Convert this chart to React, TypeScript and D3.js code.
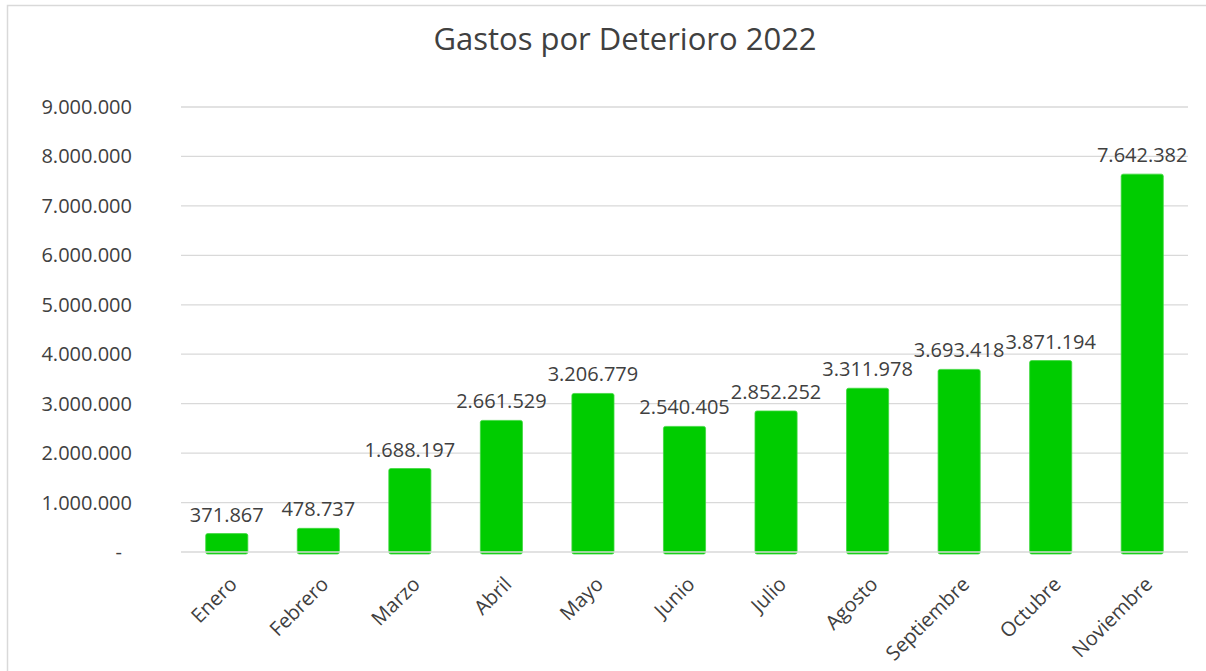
import { useRef, useEffect } from "react";
import * as d3 from "d3";

const months = [
  "Enero",
  "Febrero",
  "Marzo",
  "Abril",
  "Mayo",
  "Junio",
  "Julio",
  "Agosto",
  "Septiembre",
  "Octubre",
  "Noviembre",
];
const gastos = [
  371867, 478737, 1688197, 2661529, 3206779, 2540405, 2852252, 3311978,
  3693418, 3871194, 7642382,
];
const yTicks = [0, 1e6, 2e6, 3e6, 4e6, 5e6, 6e6, 7e6, 8e6, 9e6];
const title = "Gastos por Deterioro 2022";

const W = 1206;
const H = 671;
const FONT = "'Open Sans', 'DejaVu Sans', sans-serif";
const TEXT = "#404040";
const GRID = "#d9d9d9";
const GREEN = "#00cc00";

const locale = d3.formatLocale({
  decimal: ",",
  thousands: ".",
  grouping: [3],
  currency: ["", ""],
});
const fmt = locale.format(",.0f");

export default function App() {
  const svgRef = useRef<SVGSVGElement>(null);

  useEffect(() => {
    const svg = d3.select(svgRef.current);
    svg.selectAll("*").remove();

    // chart frame (only top and left edges visible in the window)
    svg
      .append("rect")
      .attr("x", 7.5)
      .attr("y", 5.5)
      .attr("width", W + 20)
      .attr("height", H + 20)
      .attr("fill", "#fff")
      .attr("stroke", GRID)
      .attr("stroke-width", 1.5);

    svg
      .append("text")
      .text(title)
      .attr("x", 625)
      .attr("y", 50)
      .attr("text-anchor", "middle")
      .attr("font-family", FONT)
      .attr("font-size", 31)
      .attr("fill", TEXT);

    const x = d3
      .scaleBand<string>()
      .domain(months)
      .range([181, 1188])
      .paddingInner(0.54)
      .paddingOuter(0.27);

    const y = d3.scaleLinear().domain([0, 9e6]).range([552, 107]);

    // gridlines
    svg
      .append("g")
      .selectAll("line")
      .data(yTicks.filter((t) => t > 0))
      .join("line")
      .attr("x1", 181)
      .attr("x2", 1188)
      .attr("y1", (d) => y(d))
      .attr("y2", (d) => y(d))
      .attr("stroke", GRID)
      .attr("stroke-width", 1.3);

    // y tick labels
    svg
      .append("g")
      .selectAll("text")
      .data(yTicks)
      .join("text")
      .text((d) => (d === 0 ? "-" : fmt(d)))
      .attr("x", (d) => (d === 0 ? 122 : 132))
      .attr("y", (d) => y(d))
      .attr("dy", "0.35em")
      .attr("text-anchor", "end")
      .attr("font-family", FONT)
      .attr("font-size", 20)
      .attr("fill", TEXT);

    // bars
    svg
      .append("g")
      .selectAll("rect")
      .data(gastos)
      .join("rect")
      .attr("x", (_, i) => x(months[i])!)
      .attr("y", (d) => y(d))
      .attr("width", x.bandwidth())
      .attr("height", (d) => y(0) - y(d) + 2)
      .attr("rx", 2)
      .attr("fill", GREEN)
      .attr("stroke", "#3fd83f")
      .attr("stroke-width", 0.8);

    // zero axis line over bars
    svg
      .append("line")
      .attr("x1", 181)
      .attr("x2", 1188)
      .attr("y1", y(0))
      .attr("y2", y(0))
      .attr("stroke", GRID)
      .attr("stroke-width", 1.3);

    // data labels
    svg
      .append("g")
      .selectAll("text")
      .data(gastos)
      .join("text")
      .text((d) => fmt(d))
      .attr("x", (_, i) => x(months[i])! + x.bandwidth() / 2)
      .attr("y", (d) => y(d) - 12)
      .attr("text-anchor", "middle")
      .attr("font-family", FONT)
      .attr("font-size", 20)
      .attr("fill", TEXT);

    // x labels, rotated
    svg
      .append("g")
      .selectAll("text")
      .data(months)
      .join("text")
      .text((d) => d)
      .attr(
        "transform",
        (d) => `translate(${x(d)! + x.bandwidth() / 2 + 11.5},585.5) rotate(-45)`
      )
      .attr("text-anchor", "end")
      .attr("font-family", FONT)
      .attr("font-size", 20)
      .attr("fill", TEXT);
  }, []);

  return (
    <svg
      ref={svgRef}
      width={W}
      height={H}
      style={{ position: "absolute", left: 0, top: 0, background: "#fff" }}
    />
  );
}
